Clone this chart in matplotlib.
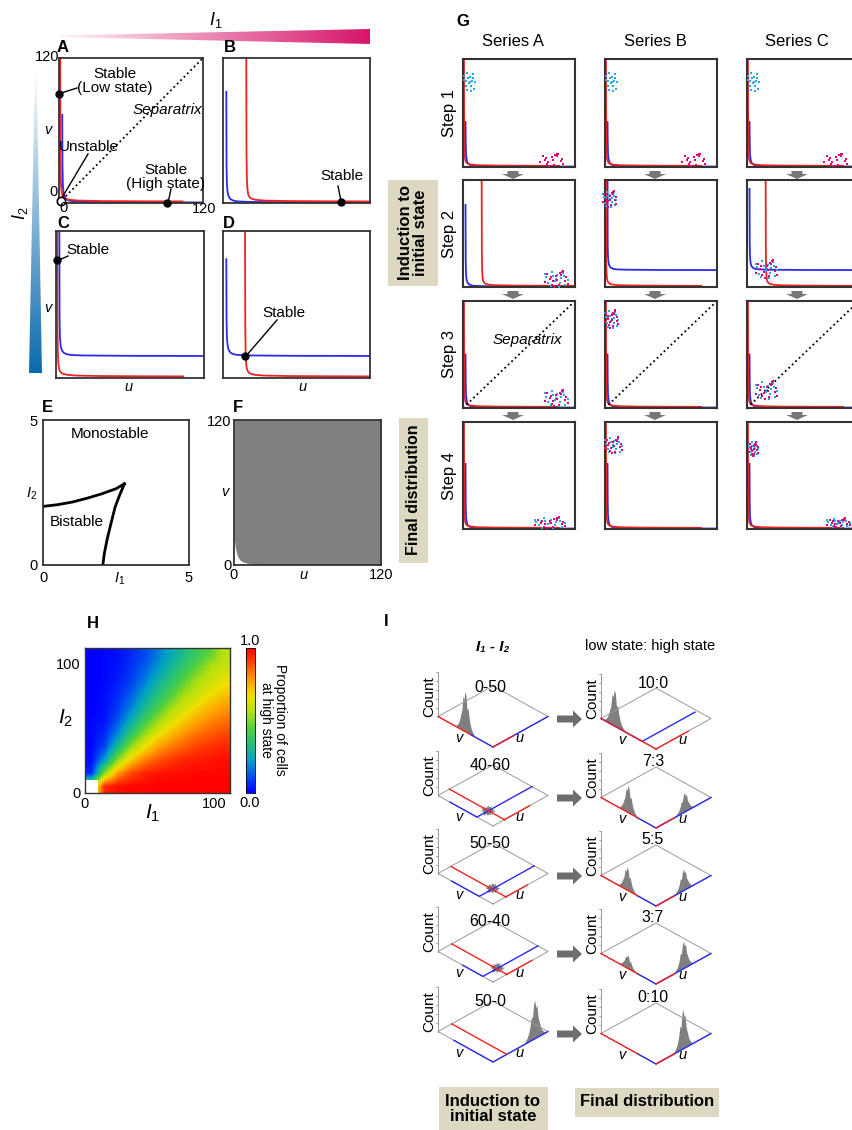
import numpy as np
import matplotlib.pyplot as plt
from matplotlib.patches import Polygon, Rectangle, FancyArrow
from matplotlib.colors import LinearSegmentedColormap

plt.rcParams['font.family'] = ['Liberation Sans', 'DejaVu Sans']
plt.rcParams['mathtext.fontset'] = 'custom'
plt.rcParams['mathtext.rm'] = 'Liberation Sans'
plt.rcParams['mathtext.it'] = 'Liberation Sans:italic'
plt.rcParams['mathtext.bf'] = 'Liberation Sans:bold'

# ---------------- data ----------------
# nullcline knee shapes, u and v in 0..120
RED_V = [120, 40, 20, 12, 8, 6, 4.5, 3.5, 2.6, 2.0, 1.6, 1.4, 1.3]
RED_DU = [0, 0.2, 0.5, 0.9, 1.4, 2, 3, 4.5, 8, 15, 35, 70, 102]
BLUE_DV = [30, 15, 9, 6, 4, 2.5, 1.5, 0.8, 0.4, 0.1, 0]
BLUE_U = [2.9, 3.2, 3.7, 4.3, 5.1, 6.4, 8.4, 12, 22, 60, 120]

# panels A-D
ABCD_LABELS = ['A', 'B', 'C', 'D']
ABCD_RED_U0 = [1, 19, 1, 18]
ABCD_BLUE_V0 = [0.5, 0.5, 18, 18]
ABCD_BLUE_TOP = [73, 92, 120, 97]
ABCD_STABLE_U = [[0, 90], [96], [1], [18]]
ABCD_STABLE_V = [[90, 0], [1], [96], [18]]

# panel E: bistable region boundary
E_UPPER_I1 = [0, 0.5, 1.0, 1.5, 2.0, 2.5, 2.79]
E_UPPER_I2 = [2.02, 2.08, 2.17, 2.30, 2.45, 2.63, 2.80]
E_LOWER_I1 = [2.79, 2.62, 2.47, 2.32, 2.2, 2.1, 2.05]
E_LOWER_I2 = [2.80, 2.4, 2.0, 1.4, 0.9, 0.4, 0.0]

# panel F: lower edge of the grey basin
F_U = [0.3, 1, 2, 3, 5, 8, 12, 18, 25, 120]
F_V = [21, 15, 10, 7, 4, 2.2, 1.3, 0.7, 0.3, 0.3]

# panel G
SERIES = ['Series A', 'Series B', 'Series C']
STEPS = ['Step 1', 'Step 2', 'Step 3', 'Step 4']
G_RED_U0 = [[1, 1, 1], [20, 1, 20], [1, 1, 1], [1, 1, 1]]
G_BLUE_V0 = [[0.5, 0.5, 0.5], [0.5, 19, 19], [0.5, 0.5, 0.5], [0.5, 0.5, 0.5]]
G_BLUE_TOP = [[50, 50, 50], [92, 120, 110], [60, 60, 60], [73, 73, 73]]
G_SEPARATRIX = [False, False, True, False]
CL_ROW = [0, 0, 0, 0, 0, 0, 1, 1, 1, 2, 2, 2, 3, 3, 3, 3]
CL_COL = [0, 0, 1, 1, 2, 2, 0, 1, 2, 0, 1, 2, 0, 1, 2, 2]
CL_U = [7, 95, 7, 95, 7, 95, 100, 5, 21, 100, 7, 21, 93, 9, 7, 98]
CL_V = [95, 8, 95, 8, 95, 8, 9, 99, 20, 11, 100, 20, 7, 94, 90, 7]
CL_SU = [6, 12, 6, 12, 6, 12, 12, 7, 11, 12, 7, 11, 16, 9, 5, 12]
CL_SV = [11, 7, 11, 7, 11, 7, 9, 9, 10, 9, 10, 10, 6, 9, 8, 5]
CL_KIND = ['c', 'm', 'c', 'm', 'c', 'm', 'cm', 'cm', 'cm', 'cm', 'cm', 'cm', 'cm', 'cm', 'cm', 'cm']
DOT_DX_C = [-0.9, -0.4, 0.1, 0.6, 1.0, -0.7, -0.1, 0.4, 0.8, -1.0, 0.2, -0.5, 0.7, 0.0,
            -0.3, 0.35, -0.6]
DOT_DY_C = [0.2, 0.9, 0.5, 0.8, -0.1, -0.5, -0.2, 0.1, -0.8, 0.6, -1.0, -0.9, 0.4, 0.0,
            0.35, -0.45, 0.05]
DOT_DX_M = [0.5, -0.8, 0.9, -0.3, 0.2, -0.6, 1.0, 0.0, -1.0, 0.6, -0.2, 0.3, -0.5, 0.8,
            0.1, -0.4, 0.45]
DOT_DY_M = [0.9, 0.6, 0.2, -0.3, -0.8, 0.0, -0.6, 0.4, -0.4, 1.0, -1.0, 0.7, 0.3, -0.2,
            -0.1, -0.7, 0.55]

# panel H: proportion of cells at high state, rows I2 = 0..100, cols I1 = 0..100
H_PROP = [
    [0.52, 0.95, 0.98, 0.99, 0.99, 1.00, 1.00, 1.00, 1.00, 1.00, 1.00],
    [0.06, 0.52, 0.79, 0.90, 0.95, 0.97, 0.98, 0.98, 0.99, 0.99, 0.99],
    [0.02, 0.23, 0.52, 0.71, 0.82, 0.88, 0.92, 0.95, 0.96, 0.97, 0.98],
    [0.01, 0.10, 0.32, 0.52, 0.66, 0.77, 0.83, 0.87, 0.91, 0.93, 0.95],
    [0.01, 0.06, 0.19, 0.37, 0.52, 0.64, 0.73, 0.79, 0.84, 0.87, 0.90],
    [0.01, 0.03, 0.12, 0.26, 0.40, 0.52, 0.62, 0.70, 0.76, 0.81, 0.84],
    [0.00, 0.02, 0.08, 0.18, 0.30, 0.42, 0.53, 0.61, 0.68, 0.74, 0.78],
    [0.00, 0.02, 0.06, 0.13, 0.23, 0.34, 0.43, 0.54, 0.60, 0.66, 0.71],
    [0.00, 0.01, 0.04, 0.09, 0.17, 0.27, 0.36, 0.45, 0.55, 0.60, 0.65],
    [0.00, 0.01, 0.03, 0.07, 0.13, 0.21, 0.30, 0.38, 0.46, 0.56, 0.60],
    [0.00, 0.01, 0.02, 0.06, 0.10, 0.17, 0.25, 0.32, 0.40, 0.46, 0.57],
]

# panel I
I_LEFT_TITLES = ['0-50', '40-60', '50-50', '60-40', '50-0']
I_RIGHT_TITLES = ['10:0', '7:3', '5:5', '3:7', '0:10']
I_L_RED_U0 = [0, 25, 28, 30, 30]
I_L_RED_VSTOP = [50, 0, 0, 0, 0]
I_L_RED_UEND = [45, 80, 75, 85, 30]
I_L_BLUE_VSTART = [50, 94, 90, 66, 85]
I_L_BLUE_V0 = [0, 35, 30, 22, 0]
I_L_BLUE_UEND = [120, 120, 120, 120, 120]
I_R_RED_U0 = [0, 0, 0, 0, 0]
I_R_RED_VSTOP = [0, 40, 40, 40, 40]
I_R_RED_UEND = [70, 40, 40, 40, 40]
I_R_BLUE_VSTART = [120, 40, 40, 40, 40]
I_R_BLUE_V0 = [30, 0, 0, 0, 0]
I_R_BLUE_UEND = [115, 120, 120, 120, 120]
# histograms: (axis, centre, half width, peak height in px)
I_L_HISTS = [[('v', 60, 20, 40)], [], [], [], [('u', 92, 22, 38)]]
I_R_HISTS = [[('v', 90, 22, 36)],
             [('v', 60, 20, 27), ('u', 63, 20, 19)],
             [('v', 62, 20, 23), ('u', 61, 20, 21)],
             [('v', 61, 20, 13), ('u', 61, 20, 27)],
             [('u', 60, 20, 39)]]
I_L_BLOB_U = [None, 24, 30, 32, None]
I_L_BLOB_V = [None, 35, 31, 23, None]
HIST_SHAPE = [0.03, 0.06, 0.1, 0.16, 0.25, 0.4, 0.62, 0.55, 0.9, 1.0,
              0.78, 0.85, 0.5, 0.38, 0.25, 0.15, 0.09, 0.05, 0.02]
BLOB_R = [1.0, 0.6, 0.9, 0.5, 1.0, 0.7, 0.95, 0.55, 0.85, 0.6, 1.0, 0.65,
          0.9, 0.5, 0.8, 0.7, 1.0, 0.55, 0.9, 0.6, 0.95, 0.5, 0.85, 0.7]

# ---------------- style ----------------
RED = '#ee2222'
BLUE = '#2a2aee'
CYAN = '#27a9e1'
MAGENTA = '#e5007e'
BEIGE = '#ddd8c2'
GREY = '#7f7f7f'
EDGE = '#333333'
heat_cmap = LinearSegmentedColormap.from_list('heat', [
    '#0000ff', '#0050f0', '#00a0c8', '#20c080', '#50d040',
    '#b0e010', '#f0e000', '#ffa000', '#ff5000', '#ff0000'])

W, H = 853, 1130
fig = plt.figure(figsize=(W / 100, H / 100), dpi=100)


def px_axes(x0, y0, x1, y1):
    return fig.add_axes([x0 / W, 1 - y1 / H, (x1 - x0) / W, (y1 - y0) / H])


def style_box(ax, lw=1.3):
    ax.set_xticks([])
    ax.set_yticks([])
    for s in ax.spines.values():
        s.set_color(EDGE)
        s.set_linewidth(lw)


def nullclines(ax, red_u0, blue_v0, blue_top, lw=1.3):
    bu = [2.7] + BLUE_U
    bv = [blue_top] + [blue_v0 + d for d in BLUE_DV]
    ru = [red_u0 + d for d in RED_DU]
    ax.plot(bu, bv, color=BLUE, lw=lw)
    ax.plot(ru, RED_V, color=RED, lw=lw)


# overlay in pixel coordinates for decorations, drawn above the panels
ov = px_axes(0, 0, W, H)
ov.axis('off')
ov.set_zorder(10)


def otext(x, y, s, **kw):
    kw.setdefault('ha', 'center')
    kw.setdefault('va', 'center')
    kw.setdefault('fontsize', 10.5)
    ov.text(x, y, s, **kw)


# gradient wedges for I1 / I2
pink = LinearSegmentedColormap.from_list('pink', ['#fdf2f7', '#d6166a'])
blues = LinearSegmentedColormap.from_list('blues', ['#ffffff', '#0b6aad'])
grad = np.linspace(0, 1, 256)
im = ov.imshow(grad[None, :], extent=(60, 370, 44, 29), cmap=pink, aspect='auto')
wedge = Polygon([(60, 35.5), (370, 29), (370, 44), (60, 37)], closed=True, fc='none', ec='none')
ov.add_patch(wedge)
im.set_clip_path(wedge)
im2 = ov.imshow(grad[:, None], extent=(29, 42, 373, 67), cmap=blues, aspect='auto')
wedge2 = Polygon([(35, 67), (36.5, 67), (42, 373), (29, 373)], closed=True, fc='none', ec='none')
ov.add_patch(wedge2)
im2.set_clip_path(wedge2)
otext(216, 20, '$I_1$', fontsize=13)
otext(20, 213, '$I_2$', fontsize=13, rotation=90)

# ---------------- panels A-D ----------------
ABCD_BOX = [(59, 58, 203, 203), (223, 58, 370, 203), (56, 231, 204, 378), (223, 231, 370, 378)]
for i, lab in enumerate(ABCD_LABELS):
    ax = px_axes(*ABCD_BOX[i])
    ax.set_xlim(0, 120)
    ax.set_ylim(0, 120)
    nullclines(ax, ABCD_RED_U0[i], ABCD_BLUE_V0[i], ABCD_BLUE_TOP[i])
    ax.plot(ABCD_STABLE_U[i], ABCD_STABLE_V[i], 'o', color='k', ms=5, clip_on=False, zorder=5)
    if lab == 'A':
        ax.plot([0, 120], [0, 120], ':', color='k', lw=1.3)
        ax.plot([2], [2], 'o', mfc='white', mec='k', ms=6, mew=1.2, clip_on=False, zorder=6)
    style_box(ax)

for lab, (x, y) in zip(ABCD_LABELS, [(63, 48), (230, 48), (63, 223), (229, 223)]):
    otext(x, y, lab, fontsize=12, fontweight='bold')

NOTE = 11
otext(115, 81, 'Stable\n(Low state)', linespacing=0.95, fontsize=NOTE)
ov.plot([58, 77], [94, 88], color='k', lw=1)
otext(167, 110, 'Separatrix', style='italic', fontsize=NOTE)
otext(89, 147, 'Unstable', fontsize=NOTE)
ov.plot([88, 63], [154, 196], color='k', lw=1)
otext(166, 177, 'Stable\n(High state)', linespacing=0.95, fontsize=NOTE)
ov.plot([168, 171], [203, 189], color='k', lw=1)
otext(342, 176, 'Stable', fontsize=NOTE)
ov.plot([341, 338], [201, 186], color='k', lw=1)
otext(88, 250, 'Stable', fontsize=NOTE)
ov.plot([59, 68], [260, 256], color='k', lw=1)
otext(284, 313, 'Stable', fontsize=NOTE)
ov.plot([246, 277], [356, 320], color='k', lw=1)
for x, y, s in [(47, 57, '120'), (54, 192, '0'), (64, 208, '0'), (204, 209, '120')]:
    otext(x, y, s)
for x, y, s in [(48, 130, 'v'), (48, 308, 'v'), (128, 387, 'u'), (302, 387, 'u')]:
    otext(x, y, s, style='italic')

# ---------------- panel E ----------------
ax = px_axes(43, 420, 189, 565)
ax.set_xlim(0, 5)
ax.set_ylim(0, 5)
ax.plot(E_UPPER_I1, E_UPPER_I2, color='k', lw=2)
ax.plot(E_LOWER_I1, E_LOWER_I2, color='k', lw=2)
ax.set_xticks([0, 2.64, 5], ['0', '$I_1$', '5'])
ax.set_yticks([0, 2.52, 5], ['0', '$I_2$', '5'])
ax.tick_params(length=0, labelsize=10.5, pad=4)
for s in ax.spines.values():
    s.set_color(EDGE)
    s.set_linewidth(1.3)
ax.text(2.3, 4.5, 'Monostable', ha='center', va='center', fontsize=NOTE)
ax.text(1.15, 1.5, 'Bistable', ha='center', va='center', fontsize=NOTE)
otext(47, 407, 'E', fontsize=12, fontweight='bold')

# ---------------- panel F ----------------
ax = px_axes(234, 420, 381, 565)
ax.set_xlim(0, 120)
ax.set_ylim(0, 120)
ax.fill_between(F_U, F_V, 120, color='#808080', lw=0)
ax.set_xticks([0, 57, 120], ['0', '$u$', '120'])
ax.set_yticks([0, 62, 120], ['0', '$v$', '120'])
ax.tick_params(length=0, labelsize=10.5, pad=2)
for s in ax.spines.values():
    s.set_color(EDGE)
    s.set_linewidth(1.3)
otext(238, 407, 'F', fontsize=12, fontweight='bold')

ov.add_patch(Rectangle((399, 418), 29, 145, fc=BEIGE, ec='none'))
otext(413.5, 490, 'Final distribution', rotation=90, fontsize=11.5, fontweight='bold')

# ---------------- panel G ----------------
G_COLS_X = [(463, 575), (605, 717), (747, 859)]
G_ROWS_Y = [(59, 167), (180, 287), (301, 408), (422, 529)]
for r in range(4):
    for c in range(3):
        ax = px_axes(G_COLS_X[c][0], G_ROWS_Y[r][0], G_COLS_X[c][1], G_ROWS_Y[r][1])
        ax.set_xlim(0, 120)
        ax.set_ylim(0, 120)
        nullclines(ax, G_RED_U0[r][c], G_BLUE_V0[r][c], G_BLUE_TOP[r][c])
        if G_SEPARATRIX[r]:
            ax.plot([0, 120], [0, 120], ':', color='k', lw=1.3)
        for k in range(len(CL_ROW)):
            if CL_ROW[k] != r or CL_COL[k] != c:
                continue
            if 'c' in CL_KIND[k]:
                ax.scatter([CL_U[k] + CL_SU[k] * d for d in DOT_DX_C],
                           [CL_V[k] + CL_SV[k] * d for d in DOT_DY_C],
                           s=4, marker='s', color=CYAN, lw=0, clip_on=False, zorder=4)
            if 'm' in CL_KIND[k]:
                ax.scatter([CL_U[k] + CL_SU[k] * d for d in DOT_DX_M],
                           [CL_V[k] + CL_SV[k] * d for d in DOT_DY_M],
                           s=4, marker='s', color=MAGENTA, lw=0, clip_on=False, zorder=4)
        style_box(ax, lw=1.5)

otext(463, 22, 'G', fontsize=12, fontweight='bold')
for c, name in enumerate(SERIES):
    otext((G_COLS_X[c][0] + G_COLS_X[c][1]) / 2 - 6, 42, name, fontsize=12)
for r, name in enumerate(STEPS):
    otext(450, (G_ROWS_Y[r][0] + G_ROWS_Y[r][1]) / 2, name, fontsize=12, rotation=90)
    if r < 3:
        for c in range(3):
            xc = (G_COLS_X[c][0] + G_COLS_X[c][1]) / 2 - 6
            ov.add_patch(FancyArrow(xc, G_ROWS_Y[r][1] + 4, 0, 8, width=11, head_width=22,
                                    head_length=5, length_includes_head=True,
                                    color='#777777', lw=0))
otext(527, 340, 'Separatrix', style='italic', fontsize=NOTE)
ov.add_patch(Rectangle((388, 180), 50, 106, fc=BEIGE, ec='none'))
otext(413, 233, 'Induction to\ninitial state', rotation=90, fontsize=12,
      fontweight='bold', linespacing=1.0)

# ---------------- panel H ----------------
hax = px_axes(85, 648, 230, 793)
hax.imshow(np.array(H_PROP), origin='lower', extent=(0, 112, 0, 112), cmap=heat_cmap,
           vmin=0, vmax=1, interpolation='bilinear', aspect='auto')
hax.add_patch(Rectangle((0, 0), 10, 10, fc='white', ec='none'))
hax.set_xlim(0, 112)
hax.set_ylim(0, 112)
hax.set_xticks([0, 100])
hax.set_yticks([0, 100])
hax.tick_params(length=0, labelsize=10.5, pad=3)
for s in hax.spines.values():
    s.set_color(EDGE)
    s.set_linewidth(1.0)
cax = px_axes(246, 648, 255, 793)
cax.imshow(grad[:, None], origin='lower', extent=(0, 1, 0, 1), cmap=heat_cmap, aspect='auto')
cax.set_xticks([])
cax.set_yticks([])
for s in cax.spines.values():
    s.set_linewidth(0.6)
otext(93, 623, 'H', fontsize=12, fontweight='bold')
otext(66, 718, '$I_2$', fontsize=15)
otext(153, 813, '$I_1$', fontsize=15)
otext(250, 641, '1.0', fontsize=10.5)
otext(250, 803, '0.0', fontsize=10.5)
otext(273, 720, 'Proportion of cells\nat high state', rotation=-90, fontsize=10, linespacing=1.0)

# ---------------- panel I ----------------
CX = 55 / 120
CY = 30.5 / 120
COUNT_H = 45
I_BY = [747, 826, 904, 982, 1062]


def proj(bx, by, u, v):
    u = np.asarray(u, dtype=float)
    v = np.asarray(v, dtype=float)
    return bx + (u - v) * CX, by - (u + v) * CY


def mini(bx, by, title, tdy, red, blue, hists, blob):
    lx, ly = proj(bx, by, 0, 120)
    tx, ty = proj(bx, by, 120, 120)
    rx, ry = proj(bx, by, 120, 0)
    ov.plot([bx, lx, tx, rx, bx], [by, ly, ty, ry, by], color='#9a9a9a', lw=0.7)
    ov.plot([lx, lx], [ly, ly - COUNT_H], color='#9a9a9a', lw=0.7)
    for k in range(1, 6):
        ov.plot([lx - 2, lx], [ly - k * 9, ly - k * 9], color='#9a9a9a', lw=0.6)
    bu, bv = blue
    ru, rv = red
    ov.plot(*proj(bx, by, bu, bv), color=BLUE, lw=1.0)
    ov.plot(*proj(bx, by, ru, rv), color=RED, lw=1.0)
    for axis, cen, hw, hgt in hists:
        p = cen + np.linspace(-hw, hw, len(HIST_SHAPE))
        if axis == 'v':
            xb, yb = proj(bx, by, np.zeros_like(p), p)
        else:
            xb, yb = proj(bx, by, p, np.zeros_like(p))
        yt = yb - hgt * np.array(HIST_SHAPE)
        ov.fill(np.r_[xb, xb[::-1]], np.r_[yb, yt[::-1]], color=GREY, lw=0)
    if blob is not None:
        cx_, cy_ = proj(bx, by, blob[0], blob[1])
        ang = np.linspace(0, 2 * np.pi, len(BLOB_R), endpoint=False)
        ov.fill(cx_ + 8 * np.array(BLOB_R) * np.cos(ang),
                cy_ - 5.5 * np.array(BLOB_R) * np.sin(ang), color=GREY, lw=0)
    otext(bx - 3, by - tdy, title, fontsize=11.5)
    otext(lx - 9, ly - 20, 'Count', fontsize=11, rotation=90)
    otext(bx - 34, by - 9, 'v', style='italic', fontsize=10.5)
    otext(bx + 26, by - 9, 'u', style='italic', fontsize=10.5)


for r in range(5):
    red = ([I_L_RED_U0[r], I_L_RED_U0[r], np.nan, I_L_RED_U0[r], I_L_RED_UEND[r]],
           [120, I_L_RED_VSTOP[r], np.nan, 0, 0])
    blue = ([0, 0, I_L_BLUE_UEND[r]], [I_L_BLUE_VSTART[r], I_L_BLUE_V0[r], I_L_BLUE_V0[r]])
    blob = None if I_L_BLOB_U[r] is None else (I_L_BLOB_U[r], I_L_BLOB_V[r])
    mini(493, I_BY[r], I_LEFT_TITLES[r], 60, red, blue, I_L_HISTS[r], blob)

    red = ([I_R_RED_U0[r], I_R_RED_U0[r], np.nan, I_R_RED_U0[r], I_R_RED_UEND[r]],
           [120, I_R_RED_VSTOP[r], np.nan, 0, 0])
    blue = ([0, 0, I_R_BLUE_UEND[r]], [I_R_BLUE_VSTART[r], I_R_BLUE_V0[r], I_R_BLUE_V0[r]])
    mini(656, I_BY[r] + 2, I_RIGHT_TITLES[r], 66, red, blue, I_R_HISTS[r], None)

    ov.add_patch(FancyArrow(557, I_BY[r] - 28, 25, 0, width=7, head_width=17, head_length=9,
                            length_includes_head=True, color='#6d6d6d', lw=0))

otext(386, 622, 'I', fontsize=12, fontweight='bold')
otext(493, 647, 'I\u2081 - I\u2082', fontsize=11, fontweight='bold', style='italic')
otext(650, 646, 'low state: high state', fontsize=10.5)
ov.add_patch(Rectangle((439, 1087), 109, 50, fc=BEIGE, ec='none'))
otext(493, 1109, 'Induction to\ninitial state', fontsize=12, fontweight='bold', linespacing=1.0)
ov.add_patch(Rectangle((575, 1088), 144, 29, fc=BEIGE, ec='none'))
otext(647, 1102, 'Final distribution', fontsize=12, fontweight='bold')

ov.set_xlim(0, W)
ov.set_ylim(H, 0)

fig.savefig('out.png', dpi=100)
